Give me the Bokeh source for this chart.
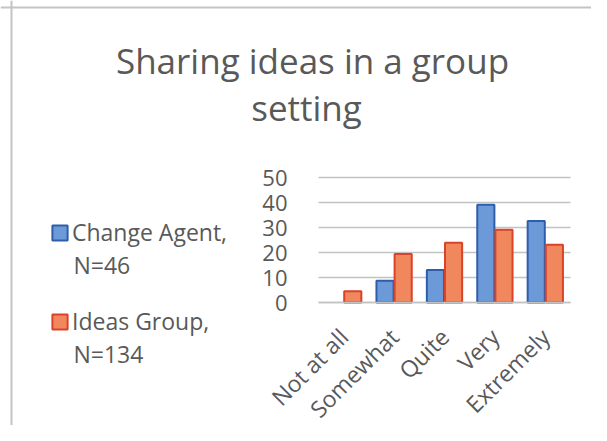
import math
from bokeh.plotting import figure
from bokeh.models import (ColumnDataSource, Legend, LegendItem, Range1d, FixedTicker,
                          LinearAxis, Label, Span, CDSView, BooleanFilter)
from bokeh.transform import dodge
from bokeh.embed import file_html
from bokeh.resources import INLINE

categories = ["Not at all", "Somewhat", "Quite", "Very", "Extremely"]
change_agent = [0, 8.7, 13.0, 39.1, 32.6]
ideas_group = [4.5, 19.4, 23.9, 29.1, 23.1]
series_names = ["Change Agent,", "Ideas Group,"]
series_n = ["N=46", "N=134"]
y_ticks = [0, 10, 20, 30, 40, 50]
title_lines = ["Sharing ideas in a group", "setting"]

FONT = "Open Sans"
TXT = "#595959"
W, H = 591, 425
# pixel geometry of the plotting area inside the canvas
X0_PX, UNIT_PX = 318.0, 50.4      # left edge of first category, px per category
Y0_PX, YUNIT_PX = 302.0, 2.5      # y=0 baseline, px per value unit

cat_pos = [i + 0.5 for i in range(len(categories))]
src = ColumnDataSource(dict(x=cat_pos, ca=change_agent, ig=ideas_group))
# zero-height bars are not drawn (no outline on the axis)
view_ca = CDSView(filter=BooleanFilter([v != 0 for v in change_agent]))
view_ig = CDSView(filter=BooleanFilter([v != 0 for v in ideas_group]))

x_range = Range1d(-X0_PX / UNIT_PX, (W - X0_PX) / UNIT_PX)
y_range = Range1d(-(H - Y0_PX) / YUNIT_PX, Y0_PX / YUNIT_PX)

def dx(px):
    return (px - X0_PX) / UNIT_PX

def dy(py):
    return (Y0_PX - py) / YUNIT_PX

p = figure(x_range=x_range, y_range=y_range, width=W, height=H,
           output_backend="svg", toolbar_location=None,
           x_axis_location=None, y_axis_location=None,
           min_border=0, min_border_left=0, min_border_right=0,
           min_border_top=0, min_border_bottom=0)
p.outline_line_color = None
p.background_fill_color = "white"
p.border_fill_color = "white"
p.xgrid.visible = False
p.ygrid.visible = False

# chart border (left and top)
p.add_layout(Span(location=dx(11), dimension="height", line_color="#C4C4C4", line_width=2))
p.add_layout(Span(location=dy(7), dimension="width", line_color="#C4C4C4", line_width=2))

# horizontal grid lines over the category span
p.segment(x0=0, x1=len(categories), y0=y_ticks, y1=y_ticks,
          line_color="#C2C2C2", line_width=1.6)

r1 = p.vbar(x=dodge("x", -0.18), top="ca", width=0.34, source=src, view=view_ca,
            fill_color="#6C9AD8", line_color="#2E5EAA", line_width=2)
r2 = p.vbar(x=dodge("x", 0.18), top="ig", width=0.34, source=src, view=view_ig,
            fill_color="#F0875D", line_color="#D8432A", line_width=2)

yaxis = LinearAxis(fixed_location=0, bounds=(0, 50), ticker=FixedTicker(ticks=y_ticks))
yaxis.axis_line_color = None
yaxis.major_tick_line_color = None
yaxis.minor_tick_line_color = None
yaxis.major_label_standoff = 25
yaxis.major_label_text_font = FONT
yaxis.major_label_text_font_size = "22px"
yaxis.major_label_text_color = TXT
p.add_layout(yaxis, "left")

xaxis = LinearAxis(fixed_location=0, bounds=(0, len(categories)),
                   ticker=FixedTicker(ticks=cat_pos),
                   major_label_overrides={pos: c for pos, c in zip(cat_pos, categories)})
xaxis.axis_line_color = "#C2C2C2"
xaxis.axis_line_width = 1.6
xaxis.major_tick_line_color = None
xaxis.minor_tick_line_color = None
xaxis.major_label_orientation = math.pi / 4
xaxis.major_label_standoff = 24
xaxis.major_label_text_font = FONT
xaxis.major_label_text_font_size = "23px"
xaxis.major_label_text_color = TXT
p.add_layout(xaxis, "below")

legend = Legend(items=[LegendItem(label=series_names[0], renderers=[r1]),
                       LegendItem(label=series_names[1], renderers=[r2])],
                location=(50, 88), orientation="vertical",
                border_line_color=None, background_fill_alpha=0,
                padding=0, margin=0, spacing=57, label_height=32,
                glyph_width=19, glyph_height=19, label_standoff=3,
                label_text_font=FONT, label_text_font_size="23px",
                label_text_color=TXT)
p.add_layout(legend, "center")

for txt, py in zip(series_n, [264, 353]):
    p.add_layout(Label(x=dx(73), y=dy(py), text=txt, text_font=FONT,
                       text_font_size="23px", text_color=TXT,
                       text_align="left", text_baseline="middle"))

for txt, px, py in zip(title_lines, [312, 306], [60, 107]):
    p.add_layout(Label(x=dx(px), y=dy(py), text=txt, text_font=FONT,
                       text_font_size="35px", text_color=TXT,
                       text_align="center", text_baseline="middle"))

open("out.html", "w").write(file_html(p, INLINE))
